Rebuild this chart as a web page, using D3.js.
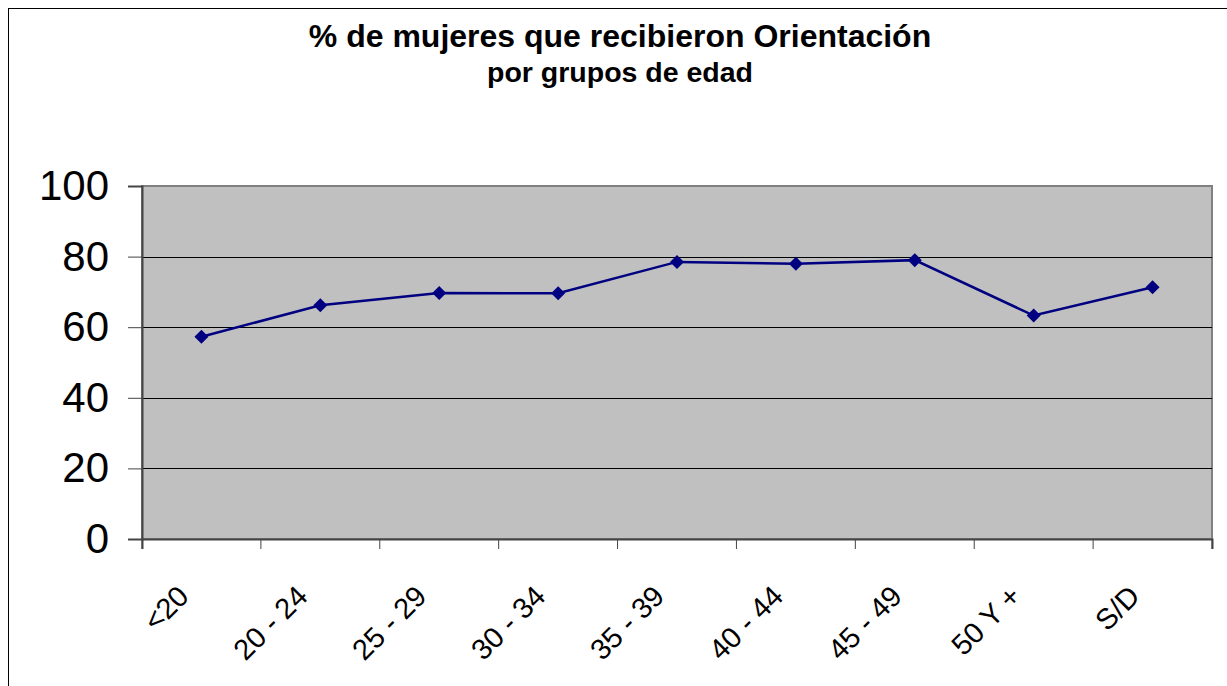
<!DOCTYPE html>
<html><head><meta charset="utf-8">
<script src="https://cdn.jsdelivr.net/npm/d3@7"></script>
<style>body{margin:0;background:#fff}svg{display:block}</style>
</head><body>
<svg id="c" width="1227" height="686"></svg>
<script>
const categories = ["<20","20 - 24","25 - 29","30 - 34","35 - 39","40 - 44","45 - 49","50 Y +","S/D"];
const values = [57.3, 66.2, 69.7, 69.6, 78.5, 78.0, 79.0, 63.3, 71.3];
const yTicks = [0,20,40,60,80,100];
const title = "% de mujeres que recibieron Orientación";
const subtitle = "por grupos de edad";

const svg = d3.select("#c");
const font = "'Liberation Sans', Arial, sans-serif";
svg.append("rect").attr("x",8.5).attr("y",8.5).attr("width",1240).attr("height",700)
  .attr("fill","#fff").attr("stroke","#000").attr("stroke-width",1);

const L=142, R=1212, T=186, B=539;
const x = d3.scaleBand().domain(categories).range([L,R]).padding(0);
const y = d3.scaleLinear().domain([0,100]).range([B,T]);

svg.append("rect").attr("x",L).attr("y",T).attr("width",R-L).attr("height",B-T)
  .attr("fill","#c0c0c0").attr("stroke","#808080").attr("stroke-width",2);

// grid
svg.append("g").selectAll("line").data(yTicks.filter(d=>d>0 && d<100)).join("line")
  .attr("x1",L).attr("x2",R).attr("y1",d=>Math.round(y(d))+0.5).attr("y2",d=>Math.round(y(d))+0.5)
  .attr("stroke","#000").attr("stroke-width",1);

// y axis
const ya = svg.append("g").attr("transform",`translate(${L},0)`)
  .call(d3.axisLeft(y).tickValues(yTicks).tickSize(14).tickPadding(19));
ya.select(".domain").attr("stroke","#444").attr("stroke-width",2);
ya.selectAll(".tick line").attr("stroke","#444");
ya.selectAll("text").attr("font-family",font).attr("font-size",42).attr("fill","#000");

// x axis
const xa = svg.append("g").attr("transform",`translate(0,${B})`)
  .call(d3.axisBottom(x).tickSize(10).tickFormat(""));
xa.select(".domain").attr("stroke","#444").attr("stroke-width",2);
xa.selectAll(".tick line").attr("stroke","#444").attr("transform",d=>`translate(${-x.bandwidth()/2},0)`);
xa.append("line").attr("x1",R).attr("x2",R).attr("y1",0).attr("y2",10).attr("stroke","#444");
svg.append("g").selectAll("text").data(categories).join("text")
  .attr("transform",d=>`translate(${x(d)+x.bandwidth()/2-11},${B+59}) rotate(-45)`)
  .attr("text-anchor","end")
  .attr("font-family",font).attr("font-size",29).attr("fill","#000").text(d=>d);

// line
const cx = (d,i)=>x(categories[i])+x.bandwidth()/2;
svg.append("path").datum(values)
  .attr("d",d3.line().x((d,i)=>cx(d,i)).y(d=>y(d)))
  .attr("fill","none").attr("stroke","#000080").attr("stroke-width",2.5);
const r=7;
svg.append("g").selectAll("path").data(values).join("path")
  .attr("d",(d,i)=>{const px=cx(d,i), py=y(d);return `M${px},${py-r}L${px+r},${py}L${px},${py+r}L${px-r},${py}Z`;})
  .attr("fill","#000080");

svg.append("text").attr("x",620).attr("y",47).attr("text-anchor","middle")
  .attr("font-family",font).attr("font-weight","bold").attr("font-size",32).text(title);
svg.append("text").attr("x",620).attr("y",82).attr("text-anchor","middle")
  .attr("font-family",font).attr("font-weight","bold").attr("font-size",28.5).text(subtitle);
</script>
</body></html>
